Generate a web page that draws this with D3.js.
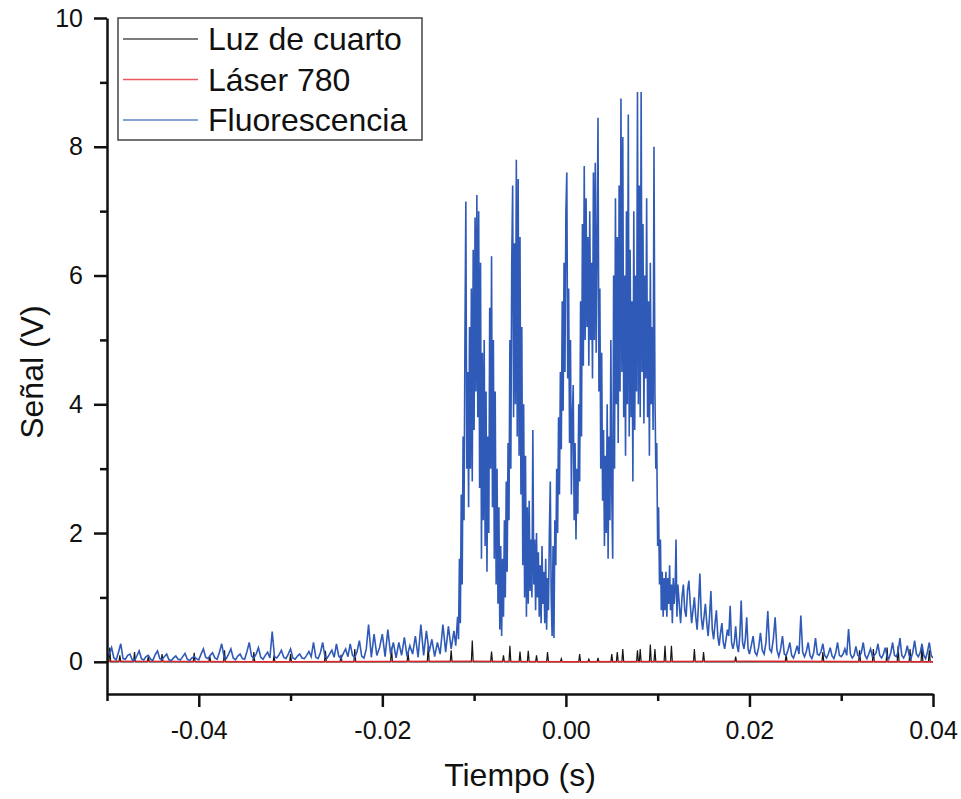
<!DOCTYPE html>
<html>
<head>
<meta charset="utf-8">
<script src="https://cdn.jsdelivr.net/npm/d3@7"></script>
<style>
  body { margin: 0; background: #fff; }
  text { font-family: "Liberation Sans", Arial, sans-serif; fill: #111; }
</style>
</head>
<body>
<div id="chart"></div>
<script>
// values (time in s, signal in V)
const seriesNames = ["Luz de cuarto", "Láser 780", "Fluorescencia"];
const seriesColors = ["#151515", "#e3242b", "#2f5ab7"];
const xTickValues = [-0.04, -0.02, 0.00, 0.02, 0.04];
const xMinorTicks = [-0.05, -0.03, -0.01, 0.01, 0.03];
const yTickValues = [0, 2, 4, 6, 8, 10];
const yMinorTicks = [1, 3, 5, 7, 9];

const luzDeCuarto = [
  [-0.0500, 0], [-0.0498, 0], [-0.0497, 0.22], [-0.0496, 0], [-0.0487, 0], [-0.0486, 0.10], [-0.0485, 0],
  [-0.0471, 0], [-0.0470, 0.15], [-0.0469, 0], [-0.0456, 0], [-0.0455, 0.08], [-0.0454, 0],
  [-0.0441, 0], [-0.0440, 0.12], [-0.0439, 0], [-0.0406, 0], [-0.0405, 0.14], [-0.0404, 0],
  [-0.0389, 0], [-0.0388, 0.09], [-0.0387, 0], [-0.0373, 0], [-0.0372, 0.18], [-0.0371, 0],
  [-0.0341, 0], [-0.0340, 0.15], [-0.0339, 0], [-0.0319, 0], [-0.0318, 0.10], [-0.0317, 0],
  [-0.0301, 0], [-0.0300, 0.12], [-0.0299, 0], [-0.0263, 0], [-0.0262, 0.17], [-0.0261, 0],
  [-0.0246, 0], [-0.0245, 0.11], [-0.0244, 0], [-0.0231, 0], [-0.0230, 0.20], [-0.0229, 0],
  [-0.0191, 0], [-0.0190, 0.22], [-0.0189, 0], [-0.0173, 0], [-0.0172, 0.15], [-0.0171, 0],
  [-0.0151, 0], [-0.0150, 0.25], [-0.0149, 0], [-0.0126, 0], [-0.0125, 0.18], [-0.0124, 0],
  [-0.0103, 0], [-0.0102, 0.33], [-0.0101, 0], [-0.0082, 0], [-0.0081, 0.16], [-0.0080, 0],
  [-0.0069, 0], [-0.0068, 0.10], [-0.0067, 0], [-0.0062, 0], [-0.0061, 0.25], [-0.0060, 0],
  [-0.0051, 0], [-0.0050, 0.16], [-0.0049, 0], [-0.0042, 0], [-0.0041, 0.17], [-0.0040, 0],
  [-0.0033, 0], [-0.0032, 0.10], [-0.0031, 0], [-0.0021, 0], [-0.0020, 0.15], [-0.0019, 0],
  [-0.0006, 0], [-0.0005, 0.05], [-0.0004, 0], [0.0014, 0], [0.0015, 0.12], [0.0016, 0],
  [0.0024, 0], [0.0025, 0.04], [0.0026, 0], [0.0034, 0], [0.0035, 0.06], [0.0036, 0],
  [0.0049, 0], [0.0050, 0.12], [0.0051, 0], [0.0055, 0], [0.0056, 0.15], [0.0057, 0],
  [0.0061, 0], [0.0062, 0.20], [0.0063, 0], [0.0077, 0], [0.0078, 0.18], [0.0079, 0],
  [0.0080, 0], [0.0081, 0.20], [0.0082, 0], [0.0091, 0], [0.0092, 0.27], [0.0093, 0],
  [0.0096, 0], [0.0097, 0.20], [0.0098, 0], [0.0107, 0], [0.0108, 0.25], [0.0109, 0],
  [0.0114, 0], [0.0115, 0.25], [0.0116, 0], [0.0139, 0], [0.0140, 0.20], [0.0141, 0],
  [0.0149, 0], [0.0150, 0.15], [0.0151, 0], [0.0184, 0], [0.0185, 0.08], [0.0186, 0],
  [0.0239, 0], [0.0240, 0.12], [0.0241, 0], [0.0279, 0], [0.0280, 0.15], [0.0281, 0],
  [0.0319, 0], [0.0320, 0.18], [0.0321, 0], [0.0334, 0], [0.0335, 0.20], [0.0336, 0],
  [0.0349, 0], [0.0350, 0.22], [0.0351, 0], [0.0361, 0], [0.0362, 0.25], [0.0363, 0],
  [0.0374, 0], [0.0375, 0.20], [0.0376, 0], [0.0387, 0], [0.0388, 0.25], [0.0389, 0],
  [0.0395, 0], [0.0396, 0.18], [0.0397, 0], [0.0400, 0]
];

const laser780 = [
  [-0.0500, 0.01], [-0.0300, 0.00], [-0.0100, 0.01], [0.0000, 0.00], [0.0200, 0.01], [0.0400, 0.00]
];

const fluorescencia = [
  // baseline before the burst
  [-0.05000, 0.05], [-0.04975, 0.12], [-0.04950, 0.22], [-0.04925, 0.06], [-0.04900, 0.03], [-0.04875, 0.15],
  [-0.04850, 0.28], [-0.04825, 0.05], [-0.04800, 0.04], [-0.04775, 0.10], [-0.04750, 0.12], [-0.04725, 0.03],
  [-0.04700, 0.02], [-0.04675, 0.09], [-0.04650, 0.17], [-0.04625, 0.05], [-0.04600, 0.03], [-0.04575, 0.08],
  [-0.04550, 0.10], [-0.04525, 0.04], [-0.04500, 0.02], [-0.04475, 0.11], [-0.04450, 0.17], [-0.04425, 0.05],
  [-0.04400, 0.04], [-0.04375, 0.08], [-0.04350, 0.12], [-0.04325, 0.03], [-0.04300, 0.02], [-0.04275, 0.06],
  [-0.04250, 0.09], [-0.04225, 0.04], [-0.04200, 0.03], [-0.04175, 0.08], [-0.04150, 0.13], [-0.04125, 0.04],
  [-0.04100, 0.02], [-0.04075, 0.06], [-0.04050, 0.08], [-0.04025, 0.05], [-0.04000, 0.03], [-0.03975, 0.12],
  [-0.03950, 0.20], [-0.03925, 0.07], [-0.03900, 0.05], [-0.03875, 0.10], [-0.03850, 0.14], [-0.03825, 0.06],
  [-0.03800, 0.04], [-0.03775, 0.15], [-0.03750, 0.28], [-0.03725, 0.08], [-0.03700, 0.05], [-0.03675, 0.12],
  [-0.03650, 0.20], [-0.03625, 0.06], [-0.03600, 0.03], [-0.03575, 0.09], [-0.03550, 0.12], [-0.03525, 0.05],
  [-0.03500, 0.04], [-0.03475, 0.16], [-0.03450, 0.30], [-0.03425, 0.09], [-0.03400, 0.06], [-0.03375, 0.12],
  [-0.03350, 0.22], [-0.03325, 0.07], [-0.03300, 0.04], [-0.03275, 0.10], [-0.03250, 0.15], [-0.03225, 0.06],
  [-0.03200, 0.47], [-0.03175, 0.08], [-0.03150, 0.06], [-0.03125, 0.11], [-0.03100, 0.18], [-0.03075, 0.07],
  [-0.03050, 0.05], [-0.03025, 0.12], [-0.03000, 0.20], [-0.02975, 0.06], [-0.02950, 0.04], [-0.02925, 0.09],
  [-0.02900, 0.12], [-0.02875, 0.06], [-0.02850, 0.05], [-0.02825, 0.10], [-0.02800, 0.16], [-0.02775, 0.08],
  [-0.02750, 0.30], [-0.02725, 0.07], [-0.02700, 0.05], [-0.02675, 0.14], [-0.02650, 0.30], [-0.02625, 0.08],
  [-0.02600, 0.06], [-0.02575, 0.12], [-0.02550, 0.18], [-0.02525, 0.07], [-0.02500, 0.28], [-0.02475, 0.09],
  [-0.02450, 0.05], [-0.02425, 0.13], [-0.02400, 0.20], [-0.02375, 0.08], [-0.02350, 0.28], [-0.02325, 0.10],
  [-0.02300, 0.07], [-0.02275, 0.16], [-0.02250, 0.33], [-0.02225, 0.09], [-0.02200, 0.06], [-0.02175, 0.20],
  [-0.0215, 0.58], [-0.0212, 0.07], [-0.0209, 0.43],
  [-0.0206, 0.10], [-0.0203, 0.22], [-0.0200, 0.43], [-0.0197, 0.08], [-0.0194, 0.50], [-0.0191, 0.12],
  [-0.0188, 0.30], [-0.0185, 0.06], [-0.0182, 0.30], [-0.0179, 0.10], [-0.0176, 0.38], [-0.0173, 0.08],
  [-0.0170, 0.25], [-0.0167, 0.12], [-0.0164, 0.40], [-0.0161, 0.07], [-0.0158, 0.58], [-0.0155, 0.10],
  [-0.0152, 0.48], [-0.0149, 0.15], [-0.0146, 0.35], [-0.0143, 0.08], [-0.0140, 0.30], [-0.0137, 0.12],
  [-0.0134, 0.58], [-0.0131, 0.15], [-0.0128, 0.55], [-0.0125, 0.20], [-0.0122, 0.48], [-0.0120, 0.25],
  // first burst
  [-0.0118, 0.70], [-0.0117, 0.35], [-0.0116, 1.6], [-0.0115, 0.6], [-0.0114, 2.6], [-0.0113, 1.2],
  [-0.0112, 3.5], [-0.0111, 2.2], [-0.0110, 5.0], [-0.0109, 7.15], [-0.0108, 3.0], [-0.0107, 4.5],
  [-0.0106, 2.4], [-0.0105, 5.2], [-0.0104, 3.0], [-0.0103, 5.8], [-0.0102, 2.8], [-0.0101, 6.4],
  [-0.0100, 3.6], [-0.0099, 6.9], [-0.0098, 4.2], [-0.0097, 7.25], [-0.0096, 3.8], [-0.0095, 7.0],
  [-0.0094, 2.7], [-0.0093, 6.2], [-0.0092, 1.6], [-0.0091, 4.8], [-0.0090, 2.2], [-0.0089, 5.0],
  [-0.0088, 1.8], [-0.0087, 4.2], [-0.0086, 1.4], [-0.0085, 3.5], [-0.0084, 2.0], [-0.0083, 5.5],
  [-0.0082, 3.0], [-0.0081, 6.3], [-0.0080, 2.4], [-0.0079, 5.0], [-0.0078, 1.6], [-0.0077, 4.2],
  [-0.0076, 1.2], [-0.0075, 3.0], [-0.0074, 0.9], [-0.0073, 2.4], [-0.0072, 0.5], [-0.0071, 1.8],
  [-0.0070, 0.4], [-0.0069, 1.6], [-0.0068, 0.7], [-0.0067, 2.2], [-0.0066, 1.0], [-0.0065, 2.8],
  [-0.0064, 1.4], [-0.0063, 3.4], [-0.0062, 2.2], [-0.0061, 5.0], [-0.0060, 3.0], [-0.0059, 6.2],
  [-0.0058, 7.4], [-0.0057, 3.8], [-0.0056, 6.5], [-0.0055, 4.0], [-0.0054, 7.8], [-0.0053, 3.5],
  [-0.0052, 7.5], [-0.0051, 3.2], [-0.0050, 6.6], [-0.0049, 2.6], [-0.0048, 5.2], [-0.0047, 1.5],
  [-0.0046, 4.0], [-0.0045, 1.0], [-0.0044, 3.2], [-0.0043, 0.7], [-0.0042, 2.4], [-0.0041, 0.9],
  [-0.0040, 2.5], [-0.0039, 1.1], [-0.0038, 1.9], [-0.0037, 1.0], [-0.0036, 3.6], [-0.0035, 1.2],
  [-0.0034, 1.9], [-0.0033, 0.8], [-0.0032, 2.0], [-0.0031, 1.0], [-0.0030, 1.7], [-0.0029, 0.7],
  [-0.0028, 1.5], [-0.0027, 0.6], [-0.0026, 1.8], [-0.0025, 0.9], [-0.0024, 1.4], [-0.0023, 0.6],
  [-0.0022, 1.6], [-0.0021, 0.5], [-0.0020, 1.3], [-0.0019, 0.8], [-0.0018, 2.0], [-0.0017, 2.8],
  [-0.0016, 1.0], [-0.0015, 0.4], [-0.0014, 1.8], [-0.0013, 0.37], [-0.0012, 2.2], [-0.0011, 1.5],
  [-0.0010, 3.0], [-0.0009, 2.0], [-0.0008, 3.8], [-0.0007, 2.6], [-0.0006, 4.5], [-0.0005, 3.3],
  [-0.0004, 5.6], [-0.0003, 3.9], [-0.0002, 6.2], [-0.0001, 4.5], [0.0000, 7.0], [0.0001, 7.6],
  // second burst
  [0.0002, 4.4], [0.0003, 5.8], [0.0004, 3.4], [0.0005, 5.0], [0.0006, 2.6], [0.0007, 3.8],
  [0.0008, 4.3], [0.0009, 2.2], [0.0010, 3.4], [0.0011, 1.9], [0.0012, 3.0], [0.0013, 2.3],
  [0.0014, 4.0], [0.0015, 2.8], [0.0016, 5.6], [0.0017, 3.5], [0.0018, 6.8], [0.0019, 4.6],
  [0.0020, 7.7], [0.0021, 5.0], [0.0022, 7.2], [0.0023, 5.2], [0.0024, 6.6], [0.0025, 4.6],
  [0.0026, 7.0], [0.0027, 5.0], [0.0028, 6.2], [0.0029, 4.4], [0.0030, 7.6], [0.0031, 5.0],
  [0.0032, 7.75], [0.0033, 4.8], [0.0034, 6.5], [0.0035, 8.45], [0.0036, 4.2], [0.0037, 5.8],
  [0.0038, 3.0], [0.0039, 4.8], [0.0040, 2.5], [0.0041, 3.6], [0.0042, 1.8], [0.0043, 3.2],
  [0.0044, 2.0], [0.0045, 4.0], [0.0046, 1.6], [0.0047, 3.5], [0.0048, 2.2], [0.0049, 5.0],
  [0.0050, 2.6], [0.0051, 1.6], [0.0052, 6.0], [0.0053, 3.0], [0.0054, 7.2], [0.0055, 4.0],
  [0.0056, 6.6], [0.0057, 3.4], [0.0058, 7.4], [0.0059, 4.2], [0.0060, 8.75], [0.0061, 4.5],
  [0.0062, 8.15], [0.0063, 3.8], [0.0064, 6.0], [0.0065, 3.2], [0.0066, 7.0], [0.0067, 4.0],
  [0.0068, 8.5], [0.0069, 3.5], [0.0070, 6.4], [0.0071, 3.8], [0.0072, 5.6], [0.0073, 2.8],
  [0.0074, 7.0], [0.0075, 3.6], [0.0076, 6.0], [0.0077, 4.2], [0.0078, 8.85], [0.0079, 4.0],
  [0.0080, 7.4], [0.0081, 3.8], [0.0082, 8.85], [0.0083, 4.5], [0.0084, 6.8], [0.0085, 3.7],
  [0.0086, 6.0], [0.0087, 4.4], [0.0088, 7.2], [0.0089, 3.8], [0.0090, 5.6], [0.0091, 3.2],
  [0.0092, 6.2], [0.0093, 4.0], [0.0094, 5.2], [0.0095, 3.6], [0.0096, 8.0], [0.0097, 4.2],
  [0.0098, 3.0], [0.0099, 3.4], [0.0100, 1.8], [0.0101, 2.4], [0.0102, 1.2], [0.0103, 1.9],
  // decay
  [0.0104, 0.8], [0.0105, 1.4], [0.0106, 0.7], [0.0107, 1.3], [0.0108, 0.8], [0.0109, 1.4],
  [0.0110, 0.7], [0.0111, 1.3], [0.0112, 0.9], [0.0113, 1.5], [0.0114, 0.8], [0.0115, 1.2],
  [0.0116, 0.6], [0.0117, 1.3], [0.0118, 0.9], [0.0119, 1.1], [0.0120, 1.9], [0.0121, 0.7],
  [0.0122, 1.2], [0.01235, 0.9], [0.0125, 0.6], [0.01265, 1.0], [0.0128, 1.2], [0.01295, 0.8],
  [0.0131, 0.7], [0.01325, 1.1], [0.0134, 1.26], [0.01355, 0.9], [0.0137, 0.6], [0.01385, 0.8],
  [0.0140, 1.0], [0.01415, 0.7], [0.0143, 0.5], [0.01445, 0.9], [0.0146, 1.37], [0.01475, 0.7],
  [0.0149, 0.5], [0.01505, 0.7], [0.0152, 0.9], [0.01535, 0.6], [0.0155, 0.4], [0.01565, 0.7],
  [0.0158, 1.1], [0.01595, 0.5], [0.0161, 0.35], [0.01625, 0.6], [0.0164, 0.8], [0.01655, 0.4],
  [0.0167, 0.25], [0.01685, 0.45], [0.0170, 0.6], [0.01715, 0.3], [0.0173, 0.2], [0.01745, 0.35],
  [0.0176, 0.5], [0.01775, 0.4], [0.0179, 0.87], [0.01805, 0.3], [0.0182, 0.2], [0.01835, 0.3],
  [0.0185, 0.55], [0.01865, 0.25], [0.0188, 0.15], [0.01895, 0.4], [0.0191, 0.95], [0.01925, 0.3],
  [0.0194, 0.2], [0.01955, 0.35], [0.0197, 0.69], [0.01985, 0.2],
  [0.0200, 0.12], [0.0202, 0.25], [0.0204, 0.4], [0.0206, 0.15], [0.0208, 0.1], [0.0210, 0.22],
  [0.0212, 0.45], [0.0214, 0.18], [0.0216, 0.12], [0.0218, 0.3], [0.0220, 0.79], [0.0222, 0.2],
  [0.0224, 0.15], [0.0226, 0.35], [0.0228, 0.69], [0.0230, 0.18], [0.0232, 0.08], [0.0234, 0.2],
  [0.0236, 0.4], [0.0238, 0.12], [0.0240, 0.1], [0.0242, 0.18], [0.0244, 0.3], [0.0246, 0.1],
  [0.0248, 0.06], [0.0250, 0.15], [0.0252, 0.25], [0.0254, 0.12], [0.0256, 0.72], [0.0258, 0.15],
  [0.0260, 0.08], [0.0262, 0.16], [0.0264, 0.3], [0.0266, 0.1], [0.0268, 0.05], [0.0270, 0.14],
  [0.0272, 0.37], [0.0274, 0.12], [0.0276, 0.1], [0.0278, 0.16], [0.0280, 0.28], [0.0282, 0.1],
  [0.0284, 0.06], [0.0286, 0.12], [0.0288, 0.22], [0.0290, 0.09], [0.0292, 0.05], [0.0294, 0.14],
  [0.0296, 0.3], [0.0298, 0.1], [0.0300, 0.08], [0.0302, 0.12], [0.0304, 0.2], [0.0306, 0.1],
  [0.0308, 0.51], [0.0310, 0.12], [0.0312, 0.06], [0.0314, 0.1], [0.0316, 0.24], [0.0318, 0.1],
  [0.0320, 0.08], [0.0322, 0.15], [0.0324, 0.3], [0.0326, 0.1], [0.0328, 0.05], [0.0330, 0.12],
  [0.0332, 0.2], [0.0334, 0.08], [0.0336, 0.1], [0.0338, 0.14], [0.0340, 0.28], [0.0342, 0.1],
  [0.0344, 0.06], [0.0346, 0.12], [0.0348, 0.22], [0.0350, 0.08], [0.0352, 0.05], [0.0354, 0.14],
  [0.0356, 0.3], [0.0358, 0.1], [0.0360, 0.08], [0.0362, 0.16], [0.0364, 0.37], [0.0366, 0.1],
  [0.0368, 0.06], [0.0370, 0.12], [0.0372, 0.25], [0.0374, 0.1], [0.0376, 0.05], [0.0378, 0.15],
  [0.0380, 0.33], [0.0382, 0.12], [0.0384, 0.08], [0.0386, 0.14], [0.0388, 0.28], [0.0390, 0.1],
  [0.0392, 0.05], [0.0394, 0.16], [0.0396, 0.3], [0.0398, 0.1], [0.0400, 0.06]
];

const margin = {top: 18, right: 28, bottom: 105, left: 107},
  width = 961 - margin.left - margin.right,
  height = 799 - margin.top - margin.bottom;

const svgRoot = d3.select("#chart")
  .append("svg")
    .attr("width", 961)
    .attr("height", 799)
    .attr("xmlns", "http://www.w3.org/2000/svg");

svgRoot.append("rect").attr("width", 961).attr("height", 799).attr("fill", "#fff");

const svg = svgRoot.append("g")
  .attr("transform", "translate(" + margin.left + "," + margin.top + ")");

const x = d3.scaleLinear().domain([-0.05, 0.04]).range([0, width]);
const y = d3.scaleLinear().domain([-0.5, 10]).range([height, 0]);

svg.append("clipPath").attr("id", "plot-clip")
  .append("rect").attr("width", width).attr("height", height);

const line = d3.line()
  .x(function (d) { return x(d[0]); })
  .y(function (d) { return y(d[1]); });

// black first, red over it, blue on top
const series = [luzDeCuarto, laser780, fluorescencia];
const widths = [1.2, 1.4, 1.6];
const plot = svg.append("g").attr("clip-path", "url(#plot-clip)");
for (let i = 0; i < series.length; i++) {
  plot.append("path")
    .datum(series[i])
    .attr("fill", "none")
    .attr("stroke", seriesColors[i])
    .attr("stroke-width", widths[i])
    .attr("stroke-linejoin", "miter")
    .attr("d", line);
}

// axes: major ticks with labels, minor ticks without
svg.append("g")
  .attr("transform", "translate(0," + height + ")")
  .call(d3.axisBottom(x).tickValues(xTickValues).tickSizeInner(13).tickSizeOuter(0)
    .tickPadding(14).tickFormat(function (d) { return d.toFixed(2); }));
svg.append("g")
  .attr("transform", "translate(0," + height + ")")
  .call(d3.axisBottom(x).tickValues(xMinorTicks).tickSize(7).tickFormat(""))
  .select(".domain").remove();

svg.append("g")
  .call(d3.axisLeft(y).tickValues(yTickValues).tickSizeInner(13).tickSizeOuter(0)
    .tickPadding(11).tickFormat(d3.format("d")));
svg.append("g")
  .call(d3.axisLeft(y).tickValues(yMinorTicks).tickSize(7).tickFormat(""))
  .select(".domain").remove();

svg.selectAll(".domain").attr("stroke", "#111").attr("stroke-width", 2.5);
svg.selectAll(".tick line").attr("stroke", "#111").attr("stroke-width", 2.5);
svg.selectAll(".tick text").style("font-size", "25px").attr("fill", "#111");

// axis titles
svg.append("text")
  .attr("x", x(-0.005))
  .attr("y", height + 92)
  .attr("text-anchor", "middle")
  .style("font-size", "32px")
  .text("Tiempo (s)");

svg.append("text")
  .attr("transform", "translate(" + (-64) + "," + y(4.5) + ") rotate(-90)")
  .attr("text-anchor", "middle")
  .style("font-size", "32px")
  .text("Señal (V)");

// legend
const legend = svgRoot.append("g").attr("transform", "translate(118,18)");
legend.append("rect")
  .attr("width", 304)
  .attr("height", 122)
  .attr("fill", "#fff")
  .attr("stroke", "#444")
  .attr("stroke-width", 1.5);

const legendRows = legend.selectAll(".legend-row")
  .data(seriesNames)
  .enter()
  .append("g")
    .attr("class", "legend-row")
    .attr("transform", function (d, i) { return "translate(0," + (21 + i * 40.5) + ")"; });

legendRows.append("line")
  .attr("x1", 5).attr("x2", 80)
  .attr("stroke", function (d, i) { return seriesColors[i]; })
  .attr("stroke-opacity", 0.75)
  .attr("stroke-width", 1.3);

legendRows.append("text")
  .attr("x", 90)
  .attr("y", 11)
  .style("font-size", "32px")
  .text(function (d) { return d; });
</script>
</body>
</html>
